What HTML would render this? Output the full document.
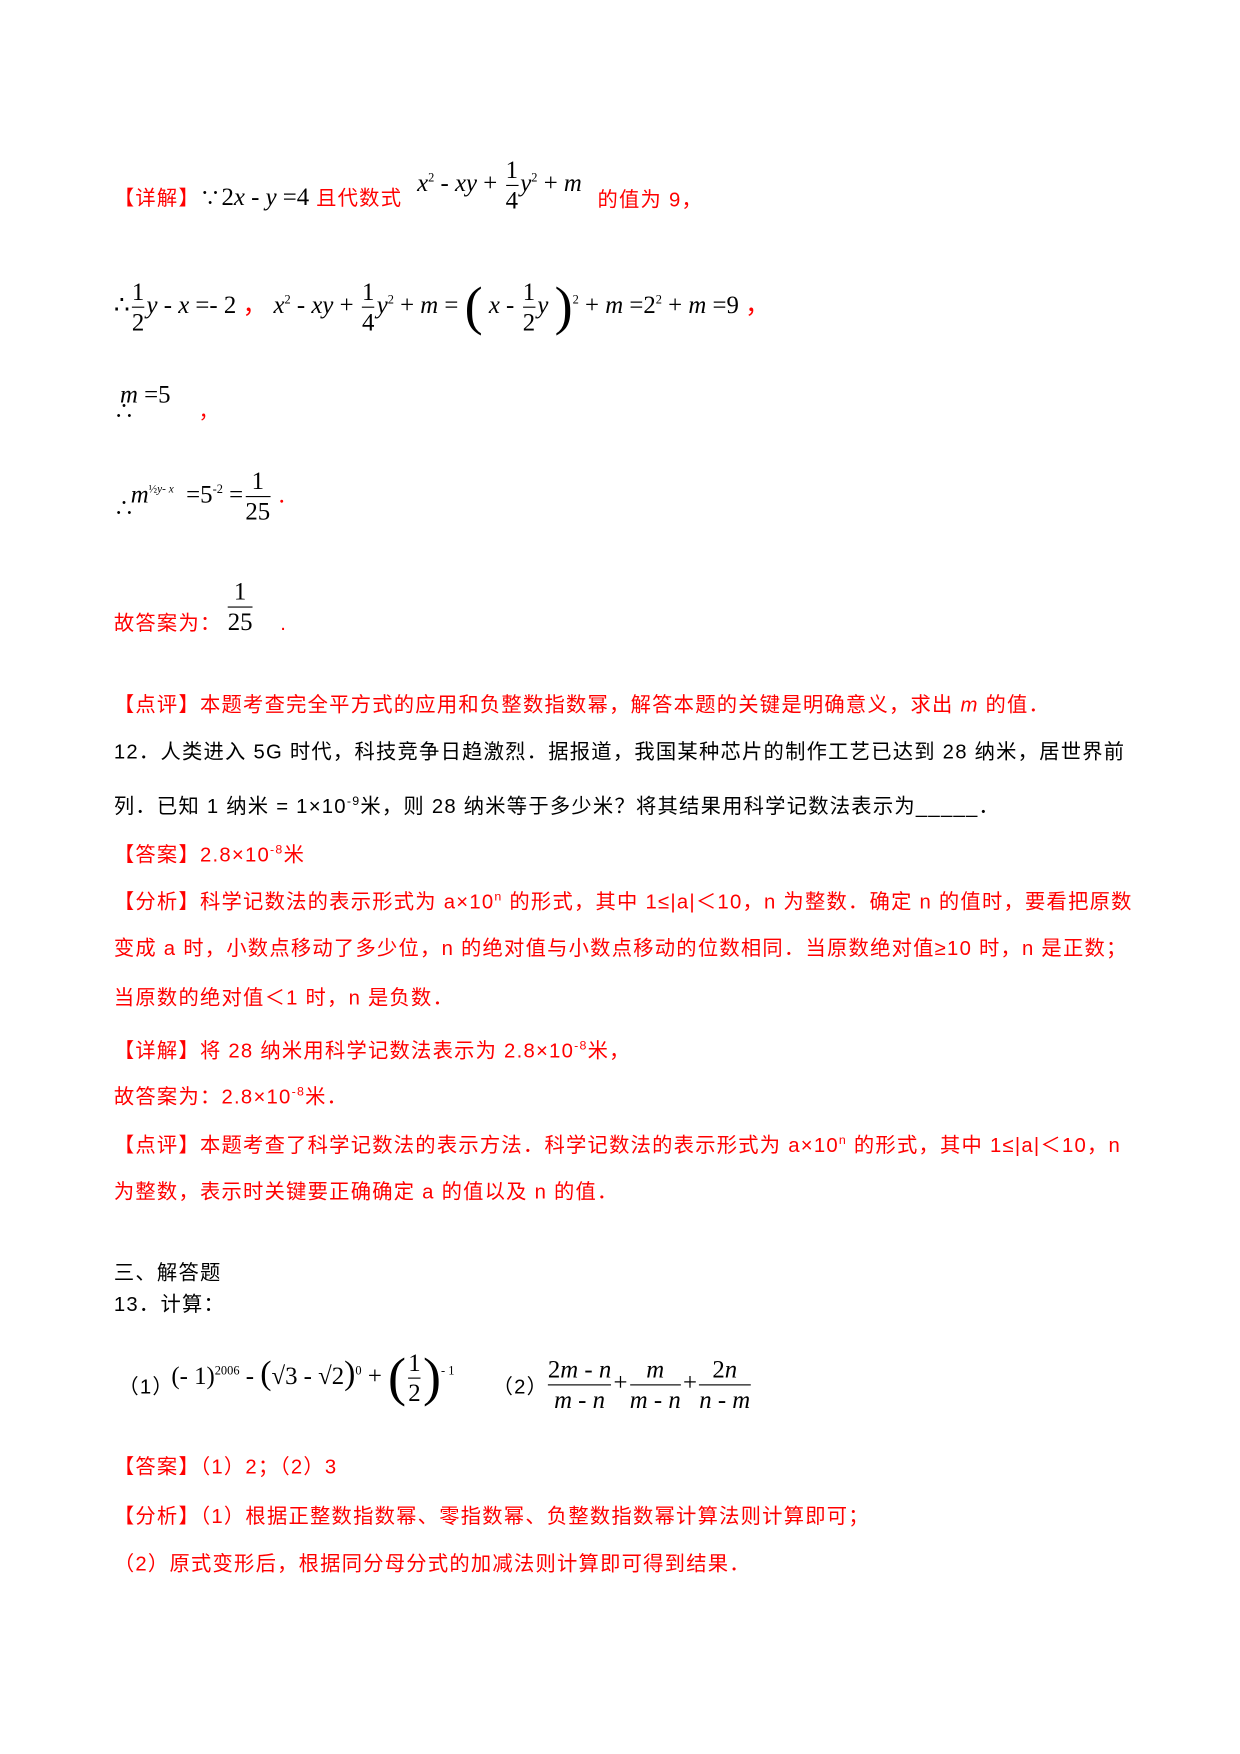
<!DOCTYPE html>
<html><head><meta charset="utf-8"><style>
body{margin:0;background:#fff;width:1240px;height:1754px;overflow:hidden}
#w{position:absolute;left:0;top:0;width:1100px;height:1556px;transform:scale(1.1273);transform-origin:0 0}
.l{position:absolute;left:101px;font:18px/22px "Liberation Sans","Noto Sans CJK SC",sans-serif;white-space:nowrap;color:#000;letter-spacing:1.1px}
.r{color:#f00}
.m{position:absolute;font:22px/24px "Liberation Serif",serif;white-space:nowrap;color:#000}
i{font-style:italic}
.f{display:inline-block;vertical-align:middle;text-align:center;margin:0 2px}
.f span{display:block;line-height:26px}
.f .n{border-bottom:1px solid #000}
sup{font-size:11px}
</style></head><body><div id="w">
<div class="l" style="top:162px"><span class="r">【详解】</span>∵<span style="font:22px 'Liberation Serif',serif;letter-spacing:0">2<i>x</i> - <i>y</i> =4</span> <span class="r">且代数式</span></div>
<div class="m" style="left:370px;top:138px"><i>x</i><sup>2</sup> - <i>xy</i> + <span class="f"><span class="n">1</span><span>4</span></span><i>y</i><sup>2</sup> + <i>m</i></div>
<div class="l r" style="left:530px;top:166px">的值为 9，</div>

<div class="m" style="left:101px;top:246px">∴<span class="f"><span class="n">1</span><span>2</span></span><i>y</i> - <i>x</i> =- 2 <span class="r">，</span> <i>x</i><sup>2</sup> - <i>xy</i> + <span class="f"><span class="n">1</span><span>4</span></span><i>y</i><sup>2</sup> + <i>m</i> = <span style="font-size:48px;font-weight:100;vertical-align:middle">(</span> <i>x</i> - <span class="f"><span class="n">1</span><span>2</span></span><i>y</i> <span style="font-size:48px;vertical-align:middle">)</span><sup>2</sup> + <i>m</i> =2<sup>2</sup> + <i>m</i> =9 <span class="r">，</span></div>

<div class="m" style="left:101px;top:338px">&nbsp;<i>m</i> =5</div>
<div class="l" style="top:354px">∴ <span class="r" style="margin-left:50px">，</span></div>

<div class="m" style="left:116px;top:414px"><i>m</i><sup><span style="font-size:10px">½<i>y</i>- <i>x</i></span></sup> &nbsp;=5<sup>-2</sup> =<span class="f"><span class="n">1</span><span>25</span></span> <span class="r">.</span></div>
<div class="l" style="top:440px">∴</div>

<div class="m" style="left:200px;top:512px"><span class="f"><span class="n">1</span><span>25</span></span></div>
<div class="l r" style="top:542px">故答案为： <span style="margin-left:46px">.</span></div>

<div class="l r" style="top:614px">【点评】本题考查完全平方式的应用和负整数指数幂，解答本题的关键是明确意义，求出 <i>m</i> 的值．</div>
<div class="l" style="top:656px">12．人类进入 5G 时代，科技竞争日趋激烈．据报道，我国某种芯片的制作工艺已达到 28 纳米，居世界前</div>
<div class="l" style="top:700px">列．已知 1 纳米 = 1×10<sup>-9</sup>米，则 28 纳米等于多少米？将其结果用科学记数法表示为_____．</div>
<div class="l r" style="top:743px">【答案】2.8×10<sup>-8</sup>米</div>
<div class="l r" style="top:785px">【分析】科学记数法的表示形式为 a×10<sup>n</sup> 的形式，其中 1≤|a|＜10，n 为整数．确定 n 的值时，要看把原数</div>
<div class="l r" style="top:830px">变成 a 时，小数点移动了多少位，n 的绝对值与小数点移动的位数相同．当原数绝对值≥10 时，n 是正数；</div>
<div class="l r" style="top:874px">当原数的绝对值＜1 时，n 是负数．</div>
<div class="l r" style="top:917px">【详解】将 28 纳米用科学记数法表示为 2.8×10<sup>-8</sup>米，</div>
<div class="l r" style="top:958px">故答案为：2.8×10<sup>-8</sup>米．</div>
<div class="l r" style="top:1001px">【点评】本题考查了科学记数法的表示方法．科学记数法的表示形式为 a×10<sup>n</sup> 的形式，其中 1≤|a|＜10，n</div>
<div class="l r" style="top:1046px">为整数，表示时关键要正确确定 a 的值以及 n 的值．</div>

<div class="l" style="top:1118px">三、解答题</div>
<div class="l" style="top:1146px">13．计算：</div>
<div class="l" style="left:105px;top:1219px">（1）</div>
<div class="m" style="left:152px;top:1196px">(- 1)<sup>2006</sup> - <span style="font-size:30px">(</span>√3 - √2<span style="font-size:30px">)</span><sup>0</sup> + <span style="font-size:48px;vertical-align:middle">(</span><span class="f"><span class="n">1</span><span>2</span></span><span style="font-size:48px;vertical-align:middle">)</span><sup>- 1</sup></div>
<div class="l" style="left:437px;top:1219px">（2）</div>
<div class="m" style="left:484px;top:1202px"><span class="f"><span class="n">2<i>m</i> - <i>n</i></span><span><i>m</i> - <i>n</i></span></span>+<span class="f"><span class="n">&nbsp;<i>m</i>&nbsp;</span><span><i>m</i> - <i>n</i></span></span>+<span class="f"><span class="n">2<i>n</i></span><span><i>n</i> - <i>m</i></span></span></div>

<div class="l r" style="top:1290px">【答案】（1）2；（2）3</div>
<div class="l r" style="top:1334px">【分析】（1）根据正整数指数幂、零指数幂、负整数指数幂计算法则计算即可；</div>
<div class="l r" style="top:1376px">（2）原式变形后，根据同分母分式的加减法则计算即可得到结果．</div>
</div></body></html>
